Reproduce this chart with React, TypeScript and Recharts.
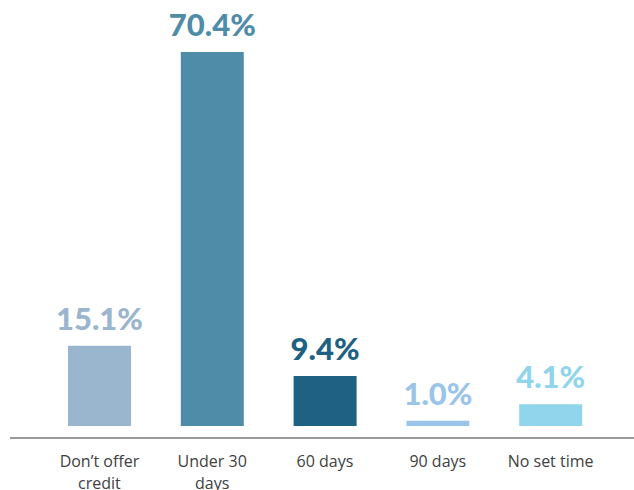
import React from "react";
import { BarChart, Bar, XAxis, YAxis, Cell, LabelList } from "recharts";

const categories = ["Don’t offer\ncredit", "Under 30\ndays", "60 days", "90 days", "No set time"];
const values = [15.1, 70.4, 9.4, 1.0, 4.1];
const valueLabels = ["15.1%", "70.4%", "9.4%", "1.0%", "4.1%"];
const colors = ["#9ab6cf", "#4f8ca8", "#1e6182", "#9bc5e8", "#90d5ec"];

const data = categories.map((c, i) => ({ name: c, value: values[i], label: valueLabels[i] }));

const Tick = (props: any) => {
  const { x, y, payload } = props;
  const lines = String(payload.value).split("\n");
  return (
    <g transform={`translate(${x},${y})`}>
      {lines.map((l, i) => (
        <text key={i} x={0} y={0} dy={21 + i * 22} textAnchor="middle" fill="#404040" fontSize={16} fontFamily="'Open Sans', sans-serif">
          {l}
        </text>
      ))}
    </g>
  );
};

const ValueLabel = (props: any) => {
  const { x, y, width, index } = props;
  return (
    <text x={x + width / 2} y={y - 16} textAnchor="middle" fill={colors[index]} fontSize={31} fontWeight={900} fontFamily="Lato, sans-serif">
      {valueLabels[index]}
    </text>
  );
};

export default function App() {
  return (
    <div style={{ position: "absolute", left: 0, top: 0, width: 634, height: 490, background: "#fff" }}>
      <BarChart width={634} height={490} data={data} margin={{ top: 52, right: 0, bottom: 0, left: 10 }}>
        <YAxis hide domain={[-2.26, 70.4]} />
        <XAxis
          dataKey="name"
          height={52}
          interval={0}
          padding={{ left: 33, right: 27 }}
          axisLine={{ stroke: "#999", strokeWidth: 2 }}
          tickLine={false}
          tick={<Tick />}
        />
        <Bar dataKey="value" barSize={63} isAnimationActive={false}>
          {data.map((d, i) => (
            <Cell key={i} fill={colors[i]} />
          ))}
          <LabelList dataKey="label" content={<ValueLabel />} />
        </Bar>
      </BarChart>
    </div>
  );
}
